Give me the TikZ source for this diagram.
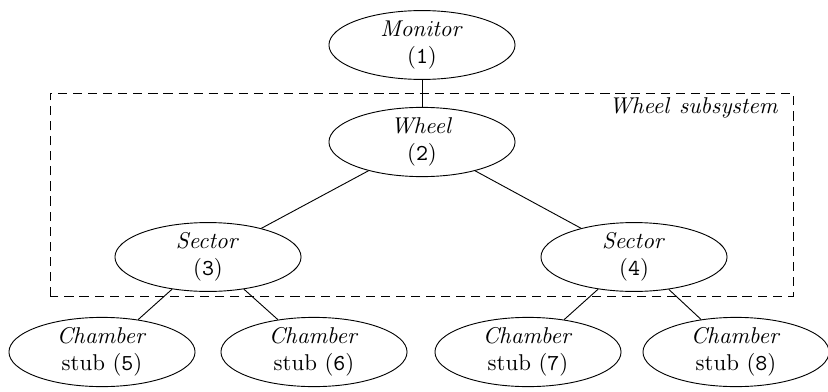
\documentclass[tikz,border=0pt]{standalone}
\usetikzlibrary{shapes.geometric}
\begin{document}
\begin{tikzpicture}[x=0.438pt,y=-0.438pt,
  comp/.style={draw,ellipse,minimum width=81.5pt,minimum height=28.5pt,inner sep=0pt,align=center,font=\normalsize},
  link/.style={draw},
  groupbox/.style={draw,dash pattern=on 4pt off 2.6pt}]
\useasboundingbox (0,0) rectangle (828,391);
\node[comp] (m) at (422,45) {$\mathit{Monitor}$\\(\texttt{1})};
\node[comp] (w) at (422,142) {$\mathit{Wheel}$\\(\texttt{2})};
\node[comp] (s3) at (208,257) {$\mathit{Sector}$\\(\texttt{3})};
\node[comp] (s4) at (634,257) {$\mathit{Sector}$\\(\texttt{4})};
\node[comp] (c5) at (102,352) {$\mathit{Chamber}$\\stub (\texttt{5})};
\node[comp] (c6) at (314,352) {$\mathit{Chamber}$\\stub (\texttt{6})};
\node[comp] (c7) at (528,352) {$\mathit{Chamber}$\\stub (\texttt{7})};
\node[comp] (c8) at (736,352) {$\mathit{Chamber}$\\stub (\texttt{8})};
\coordinate (bl) at (50,296);
\coordinate (tr) at (793,93);
\draw[groupbox] (bl) rectangle (tr);
\node[anchor=north east,inner sep=0pt] (lab) at (780,97) {$\mathit{Wheel\ subsystem}$};
\draw[link] (m) -- (w);
\draw[link] (w) -- (s3);
\draw[link] (w) -- (s4);
\draw[link] (s3) -- (c5);
\draw[link] (s3) -- (c6);
\draw[link] (s4) -- (c7);
\draw[link] (s4) -- (c8);
\end{tikzpicture}
\end{document}
